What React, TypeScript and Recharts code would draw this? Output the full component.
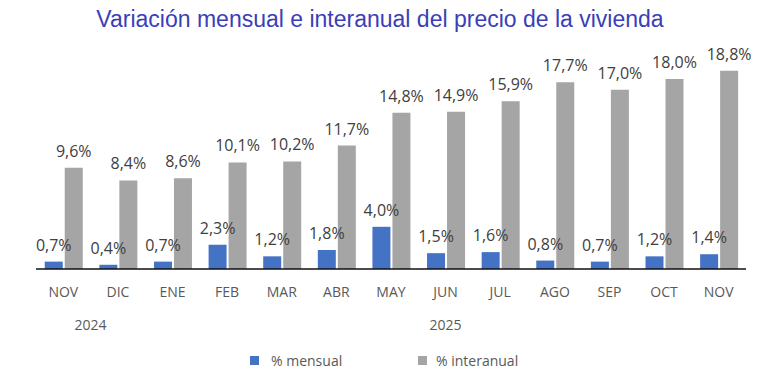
import React from 'react';
import { BarChart, Bar, XAxis, YAxis, LabelList } from 'recharts';

const months = ['NOV', 'DIC', 'ENE', 'FEB', 'MAR', 'ABR', 'MAY', 'JUN', 'JUL', 'AGO', 'SEP', 'OCT', 'NOV'];
const mensual = [0.7, 0.4, 0.7, 2.3, 1.2, 1.8, 4.0, 1.5, 1.6, 0.8, 0.7, 1.2, 1.4];
const interanual = [9.6, 8.4, 8.6, 10.1, 10.2, 11.7, 14.8, 14.9, 15.9, 17.7, 17.0, 18.0, 18.8];
const years = ['2024', '', '', '', '', '', '', '2025', '', '', '', '', ''];
const yearOffsetSlots = [0.5, 0, 0, 0, 0, 0, 0, 0, 0, 0, 0, 0, 0];

const data = months.map((m, i) => ({
  key: i,
  month: m,
  mensual: mensual[i],
  interanual: interanual[i],
}));

const W = 760;
const H = 378;
const margin = { top: 58, right: 14, bottom: 0, left: 36 };
const slot = (W - margin.left - margin.right) / months.length;

const fmt = (v: any) => `${Number(v).toFixed(1).replace('.', ',')}%`;

const Tick = (props: any) => {
  const { x, y, payload } = props;
  const i = payload.value as number;
  return (
    <g>
      <text x={x} y={y + 20} textAnchor="middle" fontFamily="'Open Sans', sans-serif" fontSize={14} fill="#595959">
        {months[i]}
      </text>
      {years[i] ? (
        <text x={x + yearOffsetSlots[i] * slot} y={y + 53} textAnchor="middle" fontFamily="'Open Sans', sans-serif" fontSize={14} fill="#595959">
          {years[i]}
        </text>
      ) : null}
    </g>
  );
};

export default function App() {
  return (
    <div style={{ position: 'absolute', left: 0, top: 0, width: W, height: H, background: '#fff' }}>
      <div
        style={{
          position: 'absolute',
          left: 0,
          top: 6,
          width: W,
          textAlign: 'center',
          fontFamily: "'Liberation Sans', Arial, sans-serif",
          fontSize: 23,
          color: '#3a3eb8',
          lineHeight: '26px',
        }}
      >
        Variación mensual e interanual del precio de la vivienda
      </div>
      <BarChart width={W} height={H} data={data} margin={margin} barGap={2} barCategoryGap="16%">
        <XAxis
          dataKey="key"
          height={109}
          tickLine={false}
          axisLine={{ stroke: '#111', strokeWidth: 1.5 }}
          tick={<Tick />}
          interval={0}
        />
        <YAxis hide domain={[0, 20]} />
        <Bar dataKey="mensual" fill="#4472c4" isAnimationActive={false}>
          <LabelList dataKey="mensual" position="top" offset={11} formatter={fmt} fontFamily="'Open Sans', sans-serif" fontSize={16} fill="#404040" />
        </Bar>
        <Bar dataKey="interanual" fill="#a5a5a5" isAnimationActive={false}>
          <LabelList dataKey="interanual" position="top" offset={11} formatter={fmt} fontFamily="'Open Sans', sans-serif" fontSize={16} fill="#404040" />
        </Bar>
      </BarChart>
      <div style={{ position: 'absolute', left: 250, top: 356, width: 9, height: 9, background: '#4472c4' }} />
      <div style={{ position: 'absolute', left: 271, top: 351, fontFamily: "'Open Sans', sans-serif", fontSize: 14, color: '#595959', lineHeight: '19px' }}>% mensual</div>
      <div style={{ position: 'absolute', left: 418, top: 356, width: 9, height: 9, background: '#a5a5a5' }} />
      <div style={{ position: 'absolute', left: 436, top: 351, fontFamily: "'Open Sans', sans-serif", fontSize: 14, color: '#595959', lineHeight: '19px' }}>% interanual</div>
    </div>
  );
}
